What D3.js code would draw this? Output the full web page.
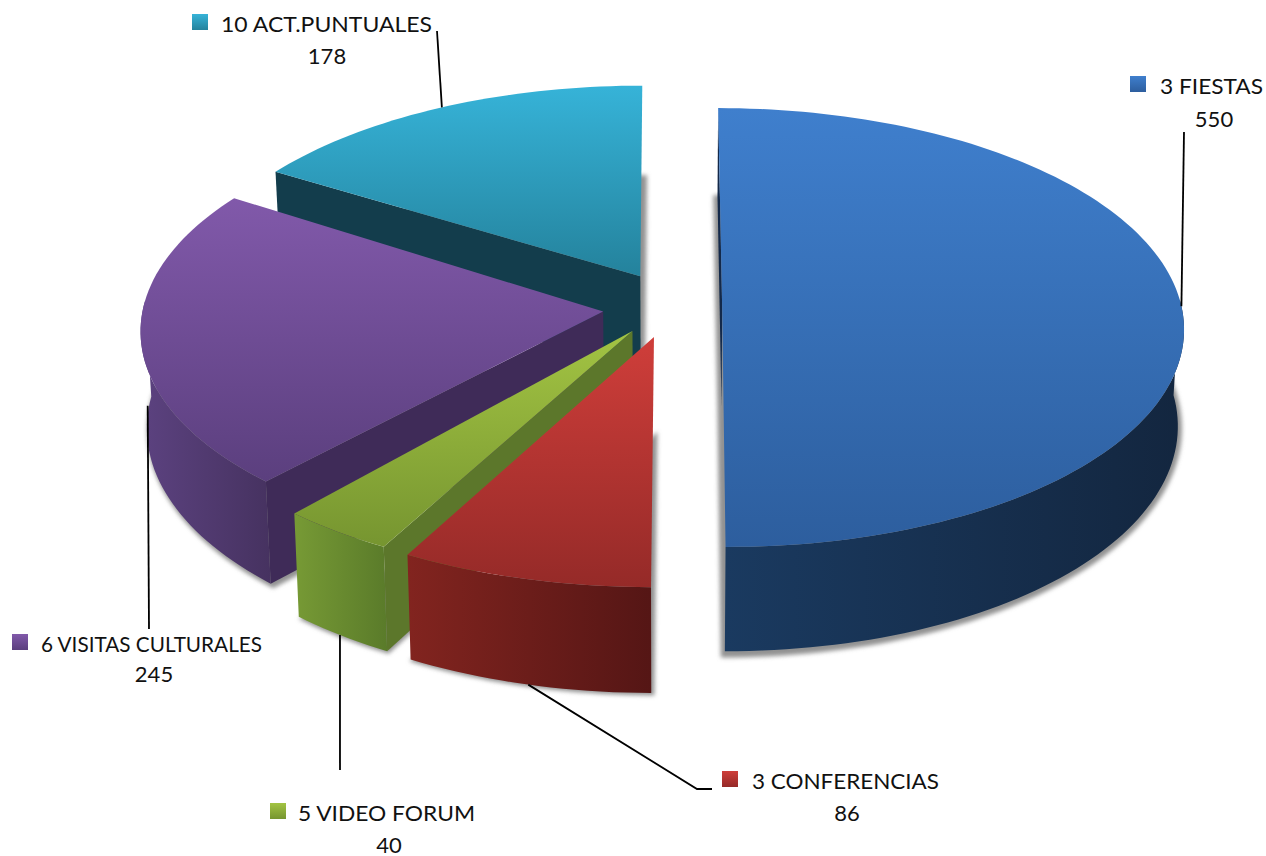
<!DOCTYPE html>
<html>
<head>
<meta charset="utf-8">
<script src="https://cdn.jsdelivr.net/npm/d3@7"></script>
<style>
  html, body { margin: 0; padding: 0; background: #fff; }
  text { font-family: Lato, "Open Sans", sans-serif; font-size: 22px; fill: #111; }
</style>
</head>
<body>
<div id="chart"></div>
<script>
// Chart data, in drawing order round the pie
const categories = ['3 FIESTAS', '3 CONFERENCIAS', '5 VIDEO FORUM', '6 VISITAS CULTURALES', '10 ACT.PUNTUALES'];
const values = [550, 86, 40, 245, 178];

// Colours per slice
const topLight = ['#3f7fcd', '#cf3e3a', '#a3c443', '#8159aa', '#36b3d8'];
const topDark = ['#2d5e9e', '#952a28', '#769530', '#5b3f7e', '#24829c'];
const wallLight = ['#1a3a60', '#82241f', '#779a35', '#5c4280', '#1a5468'];
const wallDark = ['#13263f', '#551615', '#5a7b2a', '#463260', '#113c4a'];
const cutColor = ['#13294a', '#5c1a18', '#5c772b', '#3f2b58', '#133d4c'];

// Slice geometry: pull-out and radius in units of the radius, the rest small
// corrections to follow the perspective of the picture
const explode = [0.12, 0.14, 0.16, 0.14, 0.12];
const radiusScale = [1, 1.03, 1, 1, 1];
const shiftX = [0, 3, 0, 0, 0];
const shiftY = [3, 0, 0, 0, 0];
const startNudge = [0, 0, 0, 1.5, 1.5];
const endNudge = [0, 0, 0, 1, 0];
const apexNudgeX = [0, 0, 8, 0, 0];
const apexNudgeY = [0, 0, -5, 0, -8];
const hasCutFace = [true, false, true, true, true];

// Label layout: key box, name start and width, value centre, leader anchor and bends
const keyX = [1130, 722, 270, 12, 192];
const nameX = [1160, 752, 298, 41, 221];
const nameY = [94, 789, 821, 652, 32];
const nameWidth = [103, 187, 177, 221, 211];
const valueX = [1214, 847, 389, 154, 327];
const valueY = [127, 821, 853, 682, 64];
const leaderAngle = [89, 194, 215, 257, 332];
const leaderZ = [0, 1, 1, 0.45, 0];
const leaderBends = [
    [[1184, 132]],
    [[697, 789], [712, 789]],
    [[340, 770]],
    [[149, 629]],
    [[437, 31]],
];

const width = 1266;
const height = 856;
const cx = 667;
const cy = 307;
const rx = 460;
const ry = 218;
const wallHeight = 96;
const persp = 0.0797;

const xScale = d3.scaleLinear().domain([-1, 1]).range([cx - rx, cx + rx]);
const yScale = d3.scaleLinear().domain([-1, 1]).range([cy - ry, cy + ry]);
const zScale = d3.scaleLinear().domain([0, 1]).range([0, wallHeight]);

const toRad = (deg) => deg * Math.PI / 180;

// Disc coordinates to screen, nearer points come out bigger
const project = (u, v, z) => {
    const s = 1 / (1 - persp * v);
    return [xScale(u * s * (1 - 0.012 * z)), yScale(v * s) + zScale(z) * s];
};

const arcs = d3.pie().sort(null).startAngle(0).endAngle(2 * Math.PI)(values);

const offsetOf = (d, i) => {
    const mid = (d.startAngle + d.endAngle) / 2;
    return [explode[i] * Math.sin(mid), -explode[i] * Math.cos(mid)];
};

const rimPoint = (d, i, angle, z) => {
    const [ox, oy] = offsetOf(d, i);
    const r = radiusScale[i];
    const p = project(ox + r * Math.sin(angle), oy - r * Math.cos(angle), z);
    return [p[0] + shiftX[i], p[1] + shiftY[i]];
};

const apexPoint = (d, i, z) => {
    const [ox, oy] = offsetOf(d, i);
    const p = project(ox, oy, z);
    return [p[0] + shiftX[i] + apexNudgeX[i], p[1] + shiftY[i] + apexNudgeY[i]];
};

const rimAngles = (d, i) => {
    const a0 = d.startAngle + toRad(startNudge[i]);
    const a1 = d.endAngle + toRad(endNudge[i]);
    const steps = Math.max(8, Math.ceil((a1 - a0) * 40));
    return d3.range(steps + 1).map(k => a0 + (a1 - a0) * k / steps);
};

const line = d3.line();

const svg = d3.select('#chart').append('svg')
    .attr('width', width)
    .attr('height', height)
    .style('display', 'block');

const defs = svg.append('defs');
defs.append('filter').attr('id', 'soft')
    .attr('x', '-5%').attr('y', '-5%').attr('width', '110%').attr('height', '110%')
    .append('feGaussianBlur').attr('stdDeviation', 2.2);

const addGradient = (id, light, dark, horizontal) => {
    const g = defs.append('linearGradient').attr('id', id)
        .attr('x1', 0).attr('y1', 0)
        .attr('x2', horizontal ? 1 : 0).attr('y2', horizontal ? 0 : 1);
    g.append('stop').attr('offset', 0).attr('stop-color', light);
    g.append('stop').attr('offset', 1).attr('stop-color', dark);
};

categories.forEach((c, i) => {
    addGradient(`top${i}`, topLight[i], topDark[i], false);
    addGradient(`wall${i}`, wallLight[i], wallDark[i], true);
});

// Back slices first, the blue one last so it sits on top
const drawOrder = [4, 3, 2, 1, 0];

drawOrder.forEach((i) => {
    const d = arcs[i];
    const angles = rimAngles(d, i);
    const g = svg.append('g').attr('class', `slice slice-${i}`);

    const outline = (z) => [apexPoint(d, i, z), ...angles.map(a => rimPoint(d, i, a, z))];

    // soft shadow from the lower disc, a little bigger than the disc itself
    const low = outline(1);
    const middle = [d3.mean(low, p => p[0]), d3.mean(low, p => p[1])];
    const grown = low.map(p => [
        middle[0] + (p[0] - middle[0]) * 1.018 + 1,
        middle[1] + (p[1] - middle[1]) * 1.018 + 2,
    ]);
    g.append('path')
        .attr('d', line(grown) + 'Z')
        .attr('fill', '#929292')
        .attr('filter', 'url(#soft)');

    // outer wall, only the part that faces the viewer
    const front = angles.filter(a => Math.cos(a) < 0.05);
    if (front.length > 1) {
        const wall = [
            ...front.map(a => rimPoint(d, i, a, 0)),
            ...front.slice().reverse().map(a => rimPoint(d, i, a, 1)),
        ];
        g.append('path')
            .attr('d', line(wall) + 'Z')
            .attr('fill', `url(#wall${i})`);
    }

    // the cut face on the start edge (on the blue slice it only shows as a sliver)
    if (hasCutFace[i]) {
        const face = [
            apexPoint(d, i, 0), rimPoint(d, i, angles[0], 0),
            rimPoint(d, i, angles[0], 1), apexPoint(d, i, 1),
        ];
        g.append('path')
            .attr('d', line(face) + 'Z')
            .attr('fill', cutColor[i]);
    }

    // top face
    g.append('path')
        .attr('d', line(outline(0)) + 'Z')
        .attr('fill', `url(#top${i})`);
});

// Leaders and labels
categories.forEach((name, i) => {
    const start = rimPoint(arcs[i], i, toRad(leaderAngle[i]), leaderZ[i]);
    svg.append('path')
        .attr('d', line([start, ...leaderBends[i]]))
        .attr('fill', 'none')
        .attr('stroke', '#000')
        .attr('stroke-width', 1.8);

    svg.append('rect')
        .attr('x', keyX[i])
        .attr('y', nameY[i] - 18)
        .attr('width', 16)
        .attr('height', 16)
        .attr('fill', `url(#top${i})`);

    svg.append('text')
        .attr('x', nameX[i])
        .attr('y', nameY[i])
        .attr('textLength', nameWidth[i])
        .attr('lengthAdjust', 'spacingAndGlyphs')
        .text(name);

    svg.append('text')
        .attr('x', valueX[i])
        .attr('y', valueY[i])
        .attr('text-anchor', 'middle')
        .text(values[i]);
});
</script>
</body>
</html>
